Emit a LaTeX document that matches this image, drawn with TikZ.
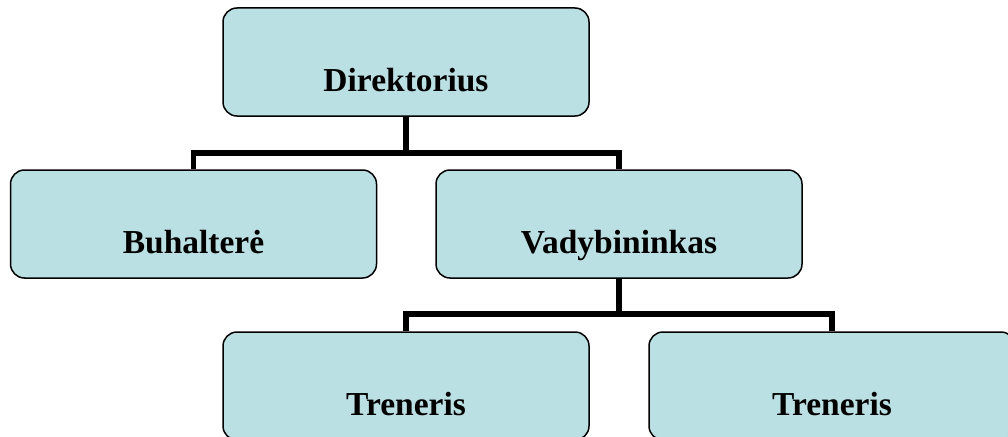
\documentclass[tikz,border=0pt]{standalone}
\usepackage{fontspec}
\setmainfont{Liberation Serif}
\definecolor{boxfill}{RGB}{187,224,227}
\begin{document}
\begin{tikzpicture}[x=1pt,y=-1pt,
  orgbox/.style={draw=black, line width=1.5pt, fill=boxfill, rounded corners=14pt,
    minimum width=366pt, minimum height=108pt, inner sep=0pt},
  lbl/.style={anchor=base, inner sep=0pt, font=\fontsize{33.5}{40}\selectfont\bfseries},
  conn/.style={draw=black, line width=5.5pt}]
\clip (0,0) rectangle (1008,436);
\fill[white] (0,0) rectangle (1008,436);
\node[orgbox] (dir) at (406,62) {};
\node[orgbox] (buh) at (193.5,224) {};
\node[orgbox] (vad) at (619,224) {};
\node[orgbox] (tr1) at (406,386) {};
\node[orgbox] (tr2) at (832,386) {};
\node[lbl] (tdir) at ([yshift=-29pt]dir.center) {Direktorius};
\node[lbl] (tbuh) at ([yshift=-29pt]buh.center) {Buhalterė};
\node[lbl] (tvad) at ([yshift=-29pt]vad.center) {Vadybininkas};
\node[lbl] (ttr1) at ([yshift=-29pt]tr1.center) {Treneris};
\node[lbl] (ttr2) at ([yshift=-29pt]tr2.center) {Treneris};
\coordinate (j1) at (406,153);
\coordinate (j2) at (619,314);
\draw[conn] (dir.south) -- (j1) -| (buh.north);
\draw[conn] (j1) -| (vad.north);
\draw[conn] (vad.south) -- (j2) -| (tr1.north);
\draw[conn] (j2) -| (tr2.north);
\end{tikzpicture}
\end{document}
